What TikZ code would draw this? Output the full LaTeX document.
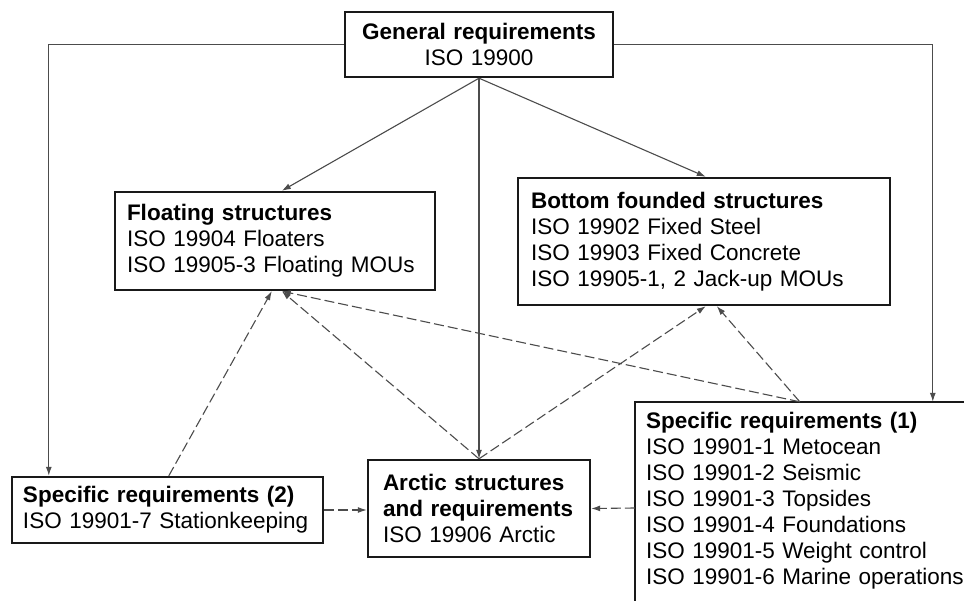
\documentclass[tikz,border=0pt]{standalone}
\usepackage{fontspec}
\setmainfont{Liberation Sans}
\usetikzlibrary{arrows.meta}
\begin{document}
\begin{tikzpicture}[x=1pt,y=-1pt,
  every node/.style={font=\fontsize{22.5}{26}\selectfont},
  frame/.style={draw=black!90, line width=2.4pt},
  box/.style={frame, rectangle, inner ysep=0pt, align=left},
  conn/.style={draw=black!70, line width=1.1pt, -{Latex[length=9pt,width=6pt]}},
  dconn/.style={conn, dash pattern=on 10pt off 4pt}]
\clip (0,0) rectangle (964,601);
\fill[white] (0,0) rectangle (964,601);
% boxes
\node[box, align=center, inner xsep=0pt, text width=268pt, minimum height=65pt] (top) at (479,44.5)
  {\textbf{General requirements}\\ISO 19900};
\node[box, inner xsep=12pt, text width=296pt, minimum height=98pt] (float) at (275,241)
  {\textbf{Floating structures}\\ISO 19904 Floaters\\ISO 19905-3 Floating MOUs};
\node[box, inner xsep=13pt, text width=346pt, minimum height=127pt] (bottom) at (704,241.5)
  {\textbf{Bottom founded structures}\\ISO 19902 Fixed Steel\\ISO 19903 Fixed Concrete\\ISO 19905-1, 2 Jack-up MOUs};
\node[box, inner xsep=11pt, text width=289pt, minimum height=66pt] (spec2) at (167.5,510)
  {\textbf{Specific requirements (2)}\\ISO 19901-7 Stationkeeping};
\node[box, inner xsep=15pt, text width=192pt, minimum height=97pt] (arctic) at (479,508.5)
  {\textbf{Arctic structures}\\\textbf{and requirements}\\ISO 19906 Arctic};
\node[rectangle, inner ysep=0pt, inner xsep=11pt, text width=318pt, minimum height=198pt, align=left] (spec1) at (805,501)
  {\textbf{Specific requirements (1)}\\ISO 19901-1 Metocean\\ISO 19901-2 Seismic\\ISO 19901-3 Topsides\\ISO 19901-4 Foundations\\ISO 19901-5 Weight control\\ISO 19901-6 Marine operations};
\draw[frame] (spec1.north east) -| ([yshift=-30pt]spec1.south west);
% solid connectors
\draw[conn] (top.west) -| ([xshift=38pt]spec2.north west);
\draw[conn] (top.east) -| ([xshift=298pt]spec1.north west);
\draw[conn] (top.south) -- ([xshift=168pt]float.north west);
\draw[conn] (top.south) -- (arctic.north);
\draw[conn] (top.south) -- ([xshift=189pt]bottom.north west);
% dashed connectors
\draw[dconn] ([xshift=158pt]spec2.north west) -- ([xshift=158pt]float.south west);
\draw[dconn] (arctic.north) -- ([xshift=168pt]float.south west);
\draw[dconn] (arctic.north) -- ([xshift=189pt]bottom.south west);
\draw[dconn] ([xshift=165pt]spec1.north west) -- ([xshift=168pt]float.south west);
\draw[dconn] ([xshift=165pt]spec1.north west) -- ([xshift=200pt]bottom.south west);
\draw[dconn] (spec2.east) -- (spec2.east -| arctic.west);
\draw[dconn] ([yshift=-7pt]spec1.west) -- (arctic.east);
\end{tikzpicture}
\end{document}
